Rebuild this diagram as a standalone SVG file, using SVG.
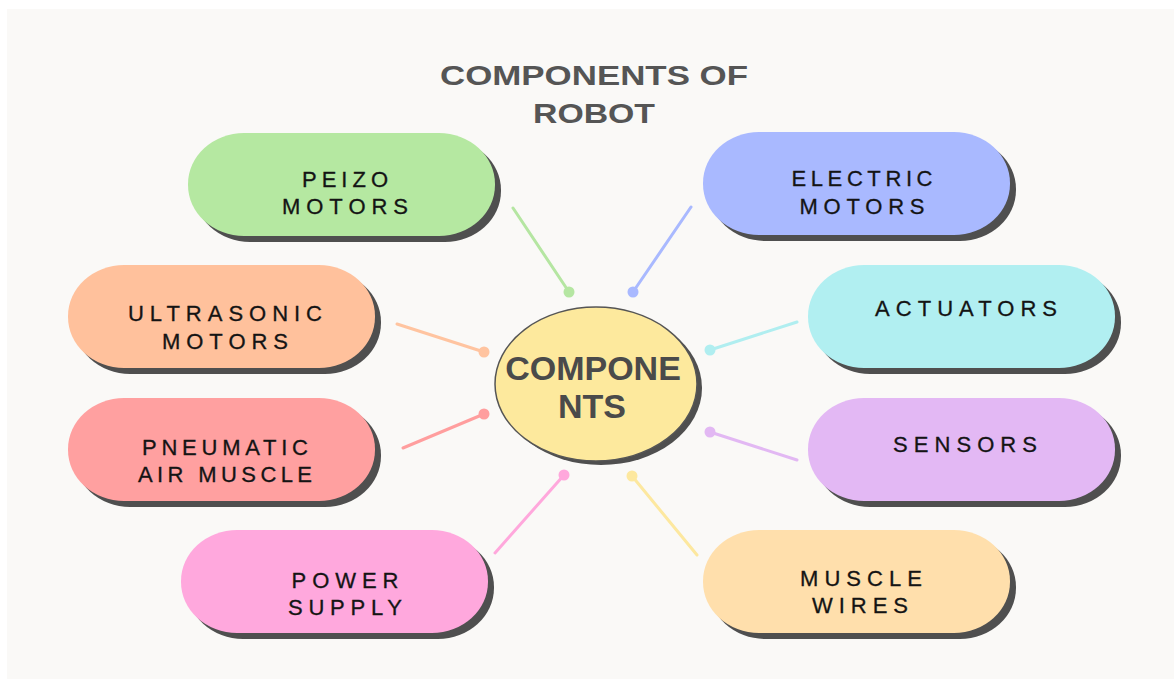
<svg xmlns="http://www.w3.org/2000/svg" width="1174" height="679" viewBox="0 0 1174 679">
<style>
.sh{fill:#4f4f4f}
.lbl{font-family:"Liberation Sans",Arial,sans-serif;font-size:22px;fill:#141414;text-anchor:middle;stroke:#141414;stroke-width:0.3}
.ttl{font-family:"Liberation Sans",Arial,sans-serif;font-size:28px;font-weight:bold;fill:#555;text-anchor:middle}
.ctr{font-family:"Liberation Sans",Arial,sans-serif;font-size:34px;font-weight:bold;fill:#4a4a4a;text-anchor:middle}
.cn{stroke-width:3;fill:none;stroke-linecap:round}
</style>
<rect x="0" y="0" width="1174" height="679" fill="#ffffff"/>
<rect x="7" y="9" width="1167" height="670" fill="#faf9f7"/>
<g id="title">
<text class="ttl" x="594" y="85" textLength="308" lengthAdjust="spacingAndGlyphs">COMPONENTS OF</text>
<text class="ttl" x="594" y="123" textLength="122" lengthAdjust="spacingAndGlyphs">ROBOT</text>
</g>
<g id="connectors">
<line class="cn" x1="513" y1="208" x2="569" y2="292" stroke="#b5e6a2"/><circle cx="569" cy="292" r="5.5" fill="#b5e6a2"/>
<line class="cn" x1="691" y1="207" x2="633" y2="292" stroke="#a9b9ff"/><circle cx="633" cy="292" r="5.5" fill="#a9b9ff"/>
<line class="cn" x1="397" y1="324" x2="484" y2="352" stroke="#ffc4a0"/><circle cx="484" cy="352" r="5.5" fill="#ffc4a0"/>
<line class="cn" x1="797" y1="322" x2="710" y2="350" stroke="#b0eef0"/><circle cx="710" cy="350" r="5.5" fill="#b0eef0"/>
<line class="cn" x1="403" y1="448" x2="484" y2="414" stroke="#ff9e9e"/><circle cx="484" cy="414" r="5.5" fill="#ff9e9e"/>
<line class="cn" x1="797" y1="460" x2="710" y2="432" stroke="#e2b8f3"/><circle cx="710" cy="432" r="5.5" fill="#e2b8f3"/>
<line class="cn" x1="495" y1="553" x2="564" y2="475" stroke="#ffa8dc"/><circle cx="564" cy="475" r="5.5" fill="#ffa8dc"/>
<line class="cn" x1="697" y1="555" x2="632" y2="476" stroke="#fde89f"/><circle cx="632" cy="476" r="5.5" fill="#fde89f"/>
</g>
<g id="center">
<ellipse class="sh" cx="601" cy="388" rx="101" ry="77"/>
<ellipse cx="596" cy="384" rx="101" ry="77" fill="#fde99d" stroke="#555" stroke-width="1.5"/>
<text class="ctr" x="593" y="380">COMPONE</text>
<text class="ctr" x="592" y="418">NTS</text>
</g>
<g id="peizo">
<rect class="sh" x="194" y="139" width="307" height="103" rx="56" ry="51"/>
<rect x="188" y="133" width="307" height="103" rx="56" ry="51" fill="#b5e8a1"/>
<text class="lbl" x="345" y="187" textLength="86" lengthAdjust="spacing">PEIZO</text>
<text class="lbl" x="345" y="214" textLength="126" lengthAdjust="spacing">MOTORS</text>
</g>
<g id="electric">
<rect class="sh" x="709" y="138" width="307" height="103" rx="56" ry="51"/>
<rect x="703" y="132" width="307" height="103" rx="56" ry="51" fill="#a9b9ff"/>
<text class="lbl" x="862" y="186" textLength="141" lengthAdjust="spacing">ELECTRIC</text>
<text class="lbl" x="862" y="214" textLength="125" lengthAdjust="spacing">MOTORS</text>
</g>
<g id="ultrasonic">
<rect class="sh" x="74" y="271" width="307" height="103" rx="56" ry="51"/>
<rect x="68" y="265" width="307" height="103" rx="56" ry="51" fill="#ffc19c"/>
<text class="lbl" x="225" y="321" textLength="194" lengthAdjust="spacing">ULTRASONIC</text>
<text class="lbl" x="225" y="349" textLength="126" lengthAdjust="spacing">MOTORS</text>
</g>
<g id="actuators">
<rect class="sh" x="814" y="271" width="307" height="103" rx="56" ry="51"/>
<rect x="808" y="265" width="307" height="103" rx="56" ry="51" fill="#b1eff1"/>
<text class="lbl" x="966" y="316" textLength="182" lengthAdjust="spacing">ACTUATORS</text>
</g>
<g id="pneumatic">
<rect class="sh" x="74" y="404" width="307" height="103" rx="56" ry="51"/>
<rect x="68" y="398" width="307" height="103" rx="56" ry="51" fill="#ffa0a0"/>
<text class="lbl" x="225" y="455" textLength="166" lengthAdjust="spacing">PNEUMATIC</text>
<text class="lbl" x="225" y="482" textLength="174" lengthAdjust="spacing">AIR MUSCLE</text>
</g>
<g id="sensors">
<rect class="sh" x="814" y="404" width="307" height="103" rx="56" ry="51"/>
<rect x="808" y="398" width="307" height="103" rx="56" ry="51" fill="#e3b8f4"/>
<text class="lbl" x="965" y="452" textLength="144" lengthAdjust="spacing">SENSORS</text>
</g>
<g id="power">
<rect class="sh" x="187" y="536" width="307" height="103" rx="56" ry="51"/>
<rect x="181" y="530" width="307" height="103" rx="56" ry="51" fill="#ffa8dd"/>
<text class="lbl" x="345" y="588" textLength="107" lengthAdjust="spacing">POWER</text>
<text class="lbl" x="345" y="615" textLength="114" lengthAdjust="spacing">SUPPLY</text>
</g>
<g id="muscle">
<rect class="sh" x="709" y="536" width="307" height="103" rx="56" ry="51"/>
<rect x="703" y="530" width="307" height="103" rx="56" ry="51" fill="#ffdfac"/>
<text class="lbl" x="861" y="586" textLength="122" lengthAdjust="spacing">MUSCLE</text>
<text class="lbl" x="860" y="613" textLength="96" lengthAdjust="spacing">WIRES</text>
</g>
</svg>
